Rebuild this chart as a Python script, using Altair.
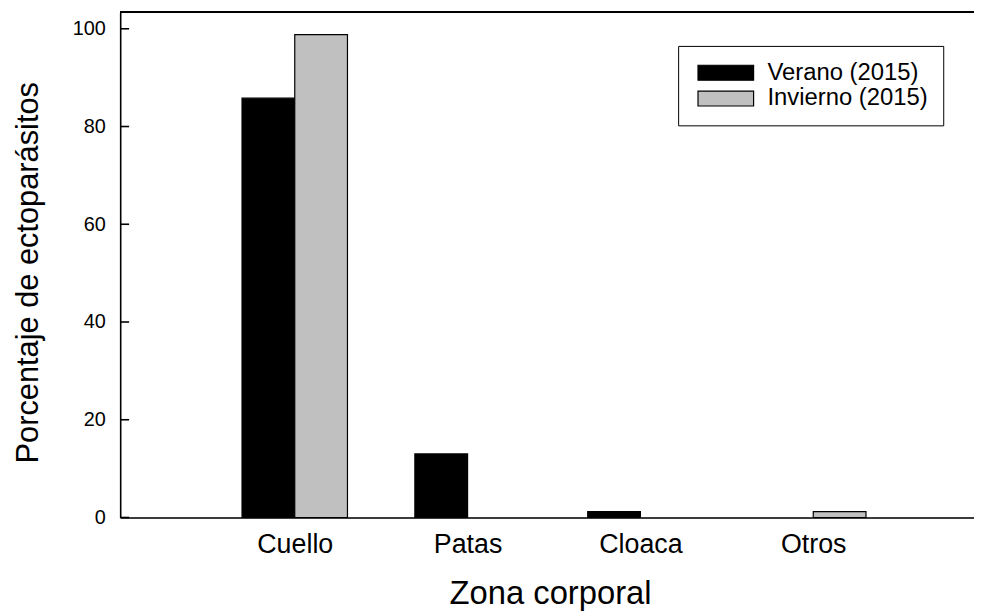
import altair as alt
import pandas as pd

zonas = ["Cuello", "Patas", "Cloaca", "Otros"]
verano = [85.8, 13.0, 1.2, 0.0]
invierno = [98.8, 0.0, 0.0, 1.2]
series = ["Verano (2015)", "Invierno (2015)"]
colores = ["#000000", "#c0c0c0"]
y_ticks = [0, 20, 40, 60, 80, 100]

FONT = "Liberation Sans"
half = 0.305
W, H = 860, 509

rows = []
for i, z in enumerate(zonas):
    pos = i + 1
    rows.append({"zona": z, "serie": series[0], "x0": pos - half, "x1": pos, "valor": verano[i]})
    rows.append({"zona": z, "serie": series[1], "x0": pos, "x1": pos + half, "valor": invierno[i]})
df = pd.DataFrame(rows)
df = df[df["valor"] > 0]

label_expr = "[''," + ",".join("'" + z + "'" for z in zonas) + "][datum.value]"

xscale = alt.Scale(domain=[-0.01, 4.93], nice=False, zero=False)
yscale = alt.Scale(domain=[0, 103.4], nice=False, zero=True)

yaxis = alt.Axis(
    values=y_ticks, grid=False, ticks=False, tickSize=0, domainColor="black", domainWidth=1.6,
    labelPadding=15, labelFontSize=20, labelFont=FONT, labelColor="black",
    title="Porcentaje de ectoparásitos", titleFontSize=31, titleFont=FONT,
    titleFontWeight="normal", titleColor="black", titleAngle=270, titleBaseline="alphabetic",
    titleAlign="center", titleX=-83, titleY=262)

bars = alt.Chart(df).mark_rect(stroke="black", strokeWidth=1.2).encode(
    x=alt.X("x0:Q", scale=xscale, axis=alt.Axis(
        values=[1, 2, 3, 4], labelExpr=label_expr, grid=False, ticks=False, tickSize=0,
        domainColor="black", domainWidth=1.6, labelPadding=35, labelBaseline="alphabetic",
        labelFontSize=27, labelFont=FONT, labelColor="black", labelFlush=False, labelOverlap=False,
        title="Zona corporal", titleFontSize=33, titleFont=FONT, titleFontWeight="normal",
        titleColor="black", titleBaseline="alphabetic", titleY=87, titleX=433, titleAlign="center")),
    x2="x1:Q",
    y=alt.Y("valor:Q", scale=yscale, axis=yaxis),
    y2=alt.datum(0),
    fill=alt.Fill("serie:N", scale=alt.Scale(domain=series, range=colores), legend=alt.Legend(
        title=None, orient="none", legendX=562, legendY=34, strokeColor="black", fillColor="white",
        padding=15, labelFontSize=24, labelFont=FONT, labelColor="black", labelLimit=400,
        symbolType="M-3.733,-1L3.733,-1L3.733,1L-3.733,1Z", symbolSize=225,
        symbolStrokeColor="black", symbolStrokeWidth=1.2, symbolOffset=21, labelOffset=30,
        rowPadding=2)),
)

tick_df = pd.DataFrame({"valor": y_ticks})
ticks = alt.Chart(tick_df).mark_rule(color="black", strokeWidth=1.6).encode(
    y=alt.Y("valor:Q", scale=yscale, axis=yaxis),
    x=alt.value(0), x2=alt.value(9),
)

top = alt.Chart(tick_df).mark_rule(color="black", strokeWidth=1.6).encode(
    x=alt.value(0), x2=alt.value(W), y=alt.value(0),
)

chart = alt.layer(bars, ticks, top).properties(
    width=W, height=H,
    autosize=alt.AutoSizeParams(type="none"),
    padding={"left": 113, "top": 2, "right": 0, "bottom": 92},
).configure_view(stroke=None).configure(background="white")

chart.save("out.html", embed_options={"renderer": "svg", "actions": False})
